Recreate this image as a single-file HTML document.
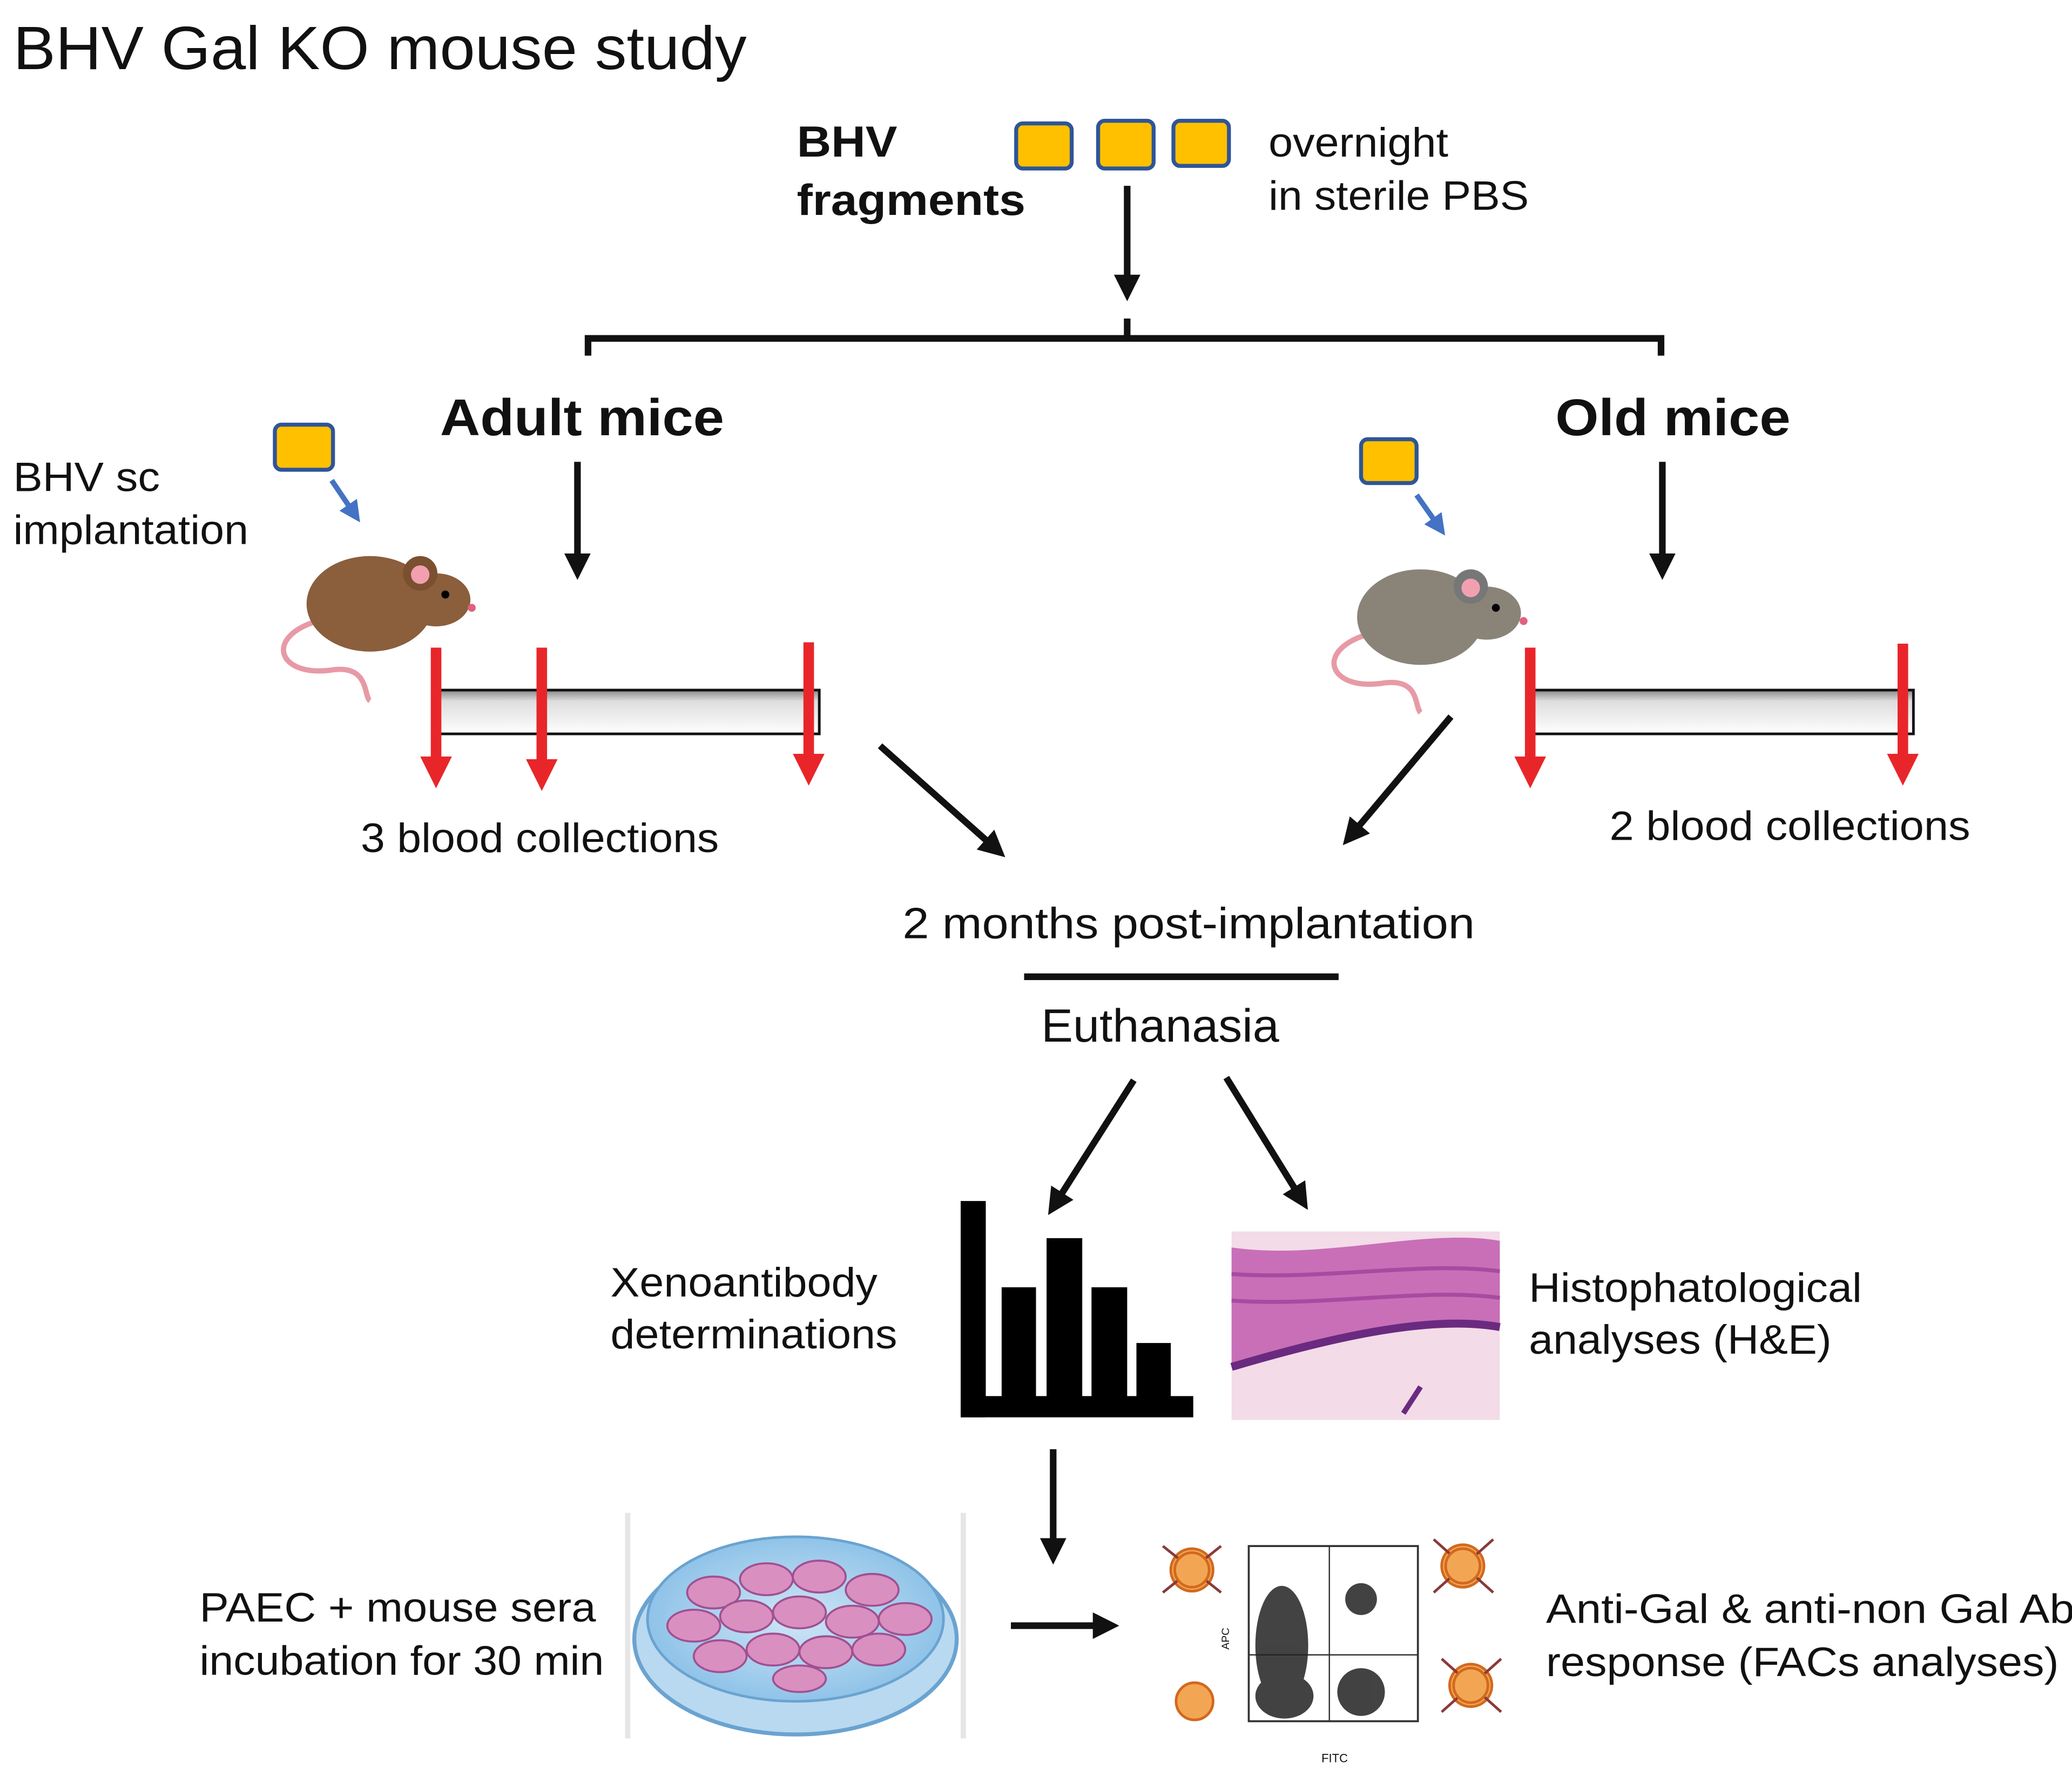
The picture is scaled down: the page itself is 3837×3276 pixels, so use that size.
<!DOCTYPE html>
<html><head><meta charset="utf-8"><style>
html,body{margin:0;padding:0;background:#fff;}
svg{display:block;}
text{font-family:"Liberation Sans",Arial,sans-serif;fill:#111;}
</style></head><body>
<svg width="3837" height="3276" viewBox="0 0 1568 1333" preserveAspectRatio="none" xmlns="http://www.w3.org/2000/svg">
<defs>
<marker id="ah" markerWidth="4" markerHeight="4" refX="2.2" refY="2" orient="auto" markerUnits="strokeWidth"><path d="M0,0 L4,2 L0,4 z" fill="#111"/></marker>
<marker id="ahr" markerWidth="3" markerHeight="3" refX="1.5" refY="1.5" orient="auto" markerUnits="strokeWidth"><path d="M0,0 L3,1.5 L0,3 z" fill="#E8262A"/></marker>
<marker id="ahb" markerWidth="4" markerHeight="4" refX="2" refY="2" orient="auto" markerUnits="strokeWidth"><path d="M0,0 L4,2 L0,4 z" fill="#4472C4"/></marker>
<linearGradient id="bar" x1="0" y1="0" x2="0" y2="1"><stop offset="0" stop-color="#888"/><stop offset="0.25" stop-color="#ddd"/><stop offset="1" stop-color="#fff"/></linearGradient>
<radialGradient id="dish" cx="0.5" cy="0.5" r="0.5"><stop offset="0" stop-color="#cfe6f7"/><stop offset="1" stop-color="#8fc3e8"/></radialGradient>
</defs>
<text x="10" y="52" font-size="46" textLength="555" lengthAdjust="spacingAndGlyphs">BHV Gal KO mouse study</text>
<text x="603" y="118" font-size="33" font-weight="bold" textLength="76" lengthAdjust="spacingAndGlyphs">BHV</text>
<text x="603" y="162" font-size="33" font-weight="bold" textLength="173" lengthAdjust="spacingAndGlyphs">fragments</text>
<g fill="#FFC000" stroke="#2F5597" stroke-width="3">
<rect x="769" y="93" width="42" height="34" rx="5"/><rect x="831" y="91" width="42" height="36" rx="5"/><rect x="888" y="91" width="42" height="34" rx="5"/>
<rect x="208" y="320" width="44" height="34" rx="5"/><rect x="1030" y="331" width="42" height="33" rx="5"/>
</g>
<text x="960" y="118" font-size="31" textLength="136" lengthAdjust="spacingAndGlyphs">overnight</text>
<text x="960" y="158" font-size="31" textLength="197" lengthAdjust="spacingAndGlyphs">in sterile PBS</text>
<g stroke="#111" stroke-width="5" fill="none">
<line x1="853" y1="140" x2="853" y2="218" marker-end="url(#ah)"/>
<path d="M445,268 L445,255 L1257,255 L1257,268"/>
<line x1="853" y1="255" x2="853" y2="240"/>
<line x1="437" y1="348" x2="437" y2="428" marker-end="url(#ah)"/>
<line x1="1258" y1="348" x2="1258" y2="428" marker-end="url(#ah)"/>
<line x1="666" y1="562" x2="754" y2="640" marker-end="url(#ah)"/>
<line x1="1098" y1="540" x2="1022" y2="630" marker-end="url(#ah)"/>
<line x1="775" y1="736" x2="1013" y2="736"/>
<line x1="858" y1="814" x2="798" y2="908" marker-end="url(#ah)"/>
<line x1="928" y1="812" x2="985" y2="904" marker-end="url(#ah)"/>
<line x1="797" y1="1092" x2="797" y2="1170" marker-end="url(#ah)"/>
<line x1="765" y1="1225" x2="838" y2="1225" marker-end="url(#ah)"/>
</g>
<text x="333" y="328" font-size="39" font-weight="bold" textLength="215" lengthAdjust="spacingAndGlyphs">Adult mice</text>
<text x="1177" y="328" font-size="39" font-weight="bold" textLength="178" lengthAdjust="spacingAndGlyphs">Old mice</text>
<text x="10" y="370" font-size="31" textLength="111" lengthAdjust="spacingAndGlyphs">BHV sc</text>
<text x="10" y="410" font-size="31" textLength="178" lengthAdjust="spacingAndGlyphs">implantation</text>
<line x1="251" y1="362" x2="268" y2="387" stroke="#4472C4" stroke-width="4" marker-end="url(#ahb)"/>
<line x1="1072" y1="373" x2="1089" y2="397" stroke="#4472C4" stroke-width="4" marker-end="url(#ahb)"/>
<g>
<path d="M240,468 C200,480 210,510 250,505 C280,500 275,525 280,528" stroke="#e79aa6" stroke-width="4" fill="none"/>
<ellipse cx="280" cy="455" rx="48" ry="36" fill="#8B5E3C"/>
<ellipse cx="330" cy="452" rx="26" ry="20" fill="#8B5E3C"/>
<ellipse cx="318" cy="432" rx="13" ry="13" fill="#7a5030"/><ellipse cx="318" cy="433" rx="7" ry="7" fill="#f2a0b0"/>
<circle cx="337" cy="448" r="3" fill="#000"/><circle cx="357" cy="458" r="3" fill="#e06080"/>
<path d="M1035,478 C995,490 1005,520 1045,515 C1075,510 1070,532 1075,537" stroke="#e79aa6" stroke-width="4" fill="none"/>
<ellipse cx="1075" cy="465" rx="48" ry="36" fill="#8a8478"/>
<ellipse cx="1125" cy="462" rx="26" ry="20" fill="#8a8478"/>
<ellipse cx="1113" cy="442" rx="13" ry="13" fill="#777"/><ellipse cx="1113" cy="443" rx="7" ry="7" fill="#f2a0b0"/>
<circle cx="1132" cy="458" r="3" fill="#000"/><circle cx="1153" cy="468" r="3" fill="#e06080"/>
</g>
<rect x="330" y="520" width="290" height="33" fill="url(#bar)" stroke="#111" stroke-width="2"/>
<rect x="1157" y="520" width="291" height="33" fill="url(#bar)" stroke="#111" stroke-width="2"/>
<g stroke="#E8262A" stroke-width="8">
<line x1="330" y1="488" x2="330" y2="582" marker-end="url(#ahr)"/>
<line x1="410" y1="488" x2="410" y2="584" marker-end="url(#ahr)"/>
<line x1="612" y1="484" x2="612" y2="580" marker-end="url(#ahr)"/>
<line x1="1158" y1="488" x2="1158" y2="582" marker-end="url(#ahr)"/>
<line x1="1440" y1="485" x2="1440" y2="580" marker-end="url(#ahr)"/>
</g>
<text x="273" y="642" font-size="31" textLength="271" lengthAdjust="spacingAndGlyphs">3 blood collections</text>
<text x="1218" y="633" font-size="31" textLength="273" lengthAdjust="spacingAndGlyphs">2 blood collections</text>
<text x="683" y="707" font-size="33" textLength="433" lengthAdjust="spacingAndGlyphs">2 months post-implantation</text>
<text x="788" y="785" font-size="35" textLength="180" lengthAdjust="spacingAndGlyphs">Euthanasia</text>
<g fill="#000">
<rect x="727" y="905" width="19" height="163"/><rect x="727" y="1052" width="176" height="16"/>
<rect x="758" y="970" width="26" height="90"/><rect x="792" y="933" width="27" height="127"/>
<rect x="826" y="970" width="27" height="90"/><rect x="860" y="1012" width="26" height="48"/>
</g>
<rect x="932" y="928" width="203" height="142" fill="#f3dbe8"/>
<path d="M932,940 C1000,950 1080,925 1135,935 L1135,1000 C1080,990 1000,1010 932,1030 Z" fill="#c86fb8"/>
<path d="M932,960 C1000,965 1080,950 1135,958 M932,980 C1000,985 1080,970 1135,978" stroke="#a94aa0" stroke-width="3" fill="none"/>
<path d="M932,1030 C1000,1010 1080,990 1135,1000" stroke="#6a2a80" stroke-width="6" fill="none"/>
<line x1="1062" y1="1065" x2="1075" y2="1045" stroke="#6a2a80" stroke-width="4"/>
<text x="462" y="977" font-size="31" textLength="202" lengthAdjust="spacingAndGlyphs">Xenoantibody</text>
<text x="462" y="1016" font-size="31" textLength="217" lengthAdjust="spacingAndGlyphs">determinations</text>
<text x="1157" y="981" font-size="31" textLength="252" lengthAdjust="spacingAndGlyphs">Histophatological</text>
<text x="1157" y="1020" font-size="31" textLength="229" lengthAdjust="spacingAndGlyphs">analyses (H&amp;E)</text>
<rect x="473" y="1140" width="4" height="170" fill="#e6e6e6"/><rect x="727" y="1140" width="4" height="170" fill="#e6e6e6"/>
<ellipse cx="602" cy="1235" rx="122" ry="72" fill="#b9d9f0" stroke="#6aa3d0" stroke-width="3"/>
<ellipse cx="602" cy="1220" rx="112" ry="62" fill="url(#dish)" stroke="#6aa3d0" stroke-width="2"/>
<g fill="#d98fc0" stroke="#a05090" stroke-width="1.5">
<ellipse cx="540" cy="1200" rx="20" ry="12"/><ellipse cx="580" cy="1190" rx="20" ry="12"/><ellipse cx="620" cy="1188" rx="20" ry="12"/><ellipse cx="660" cy="1198" rx="20" ry="12"/>
<ellipse cx="525" cy="1225" rx="20" ry="12"/><ellipse cx="565" cy="1218" rx="20" ry="12"/><ellipse cx="605" cy="1215" rx="20" ry="12"/><ellipse cx="645" cy="1222" rx="20" ry="12"/><ellipse cx="685" cy="1220" rx="20" ry="12"/>
<ellipse cx="545" cy="1248" rx="20" ry="12"/><ellipse cx="585" cy="1243" rx="20" ry="12"/><ellipse cx="625" cy="1245" rx="20" ry="12"/><ellipse cx="665" cy="1243" rx="20" ry="12"/>
<ellipse cx="605" cy="1265" rx="20" ry="10"/>
</g>
<text x="151" y="1222" font-size="31" textLength="300" lengthAdjust="spacingAndGlyphs">PAEC + mouse sera</text>
<text x="151" y="1262" font-size="31" textLength="306" lengthAdjust="spacingAndGlyphs">incubation for 30 min</text>
<rect x="945" y="1165" width="128" height="132" fill="none" stroke="#333" stroke-width="1.5"/>
<line x1="1006" y1="1165" x2="1006" y2="1297" stroke="#333"/><line x1="945" y1="1247" x2="1073" y2="1247" stroke="#333"/>
<g fill="#222" opacity="0.85">
<ellipse cx="970" cy="1240" rx="20" ry="45"/><ellipse cx="972" cy="1278" rx="22" ry="17"/><ellipse cx="1030" cy="1205" rx="12" ry="12"/><ellipse cx="1030" cy="1275" rx="18" ry="18"/>
</g>
<text x="932" y="1255" font-size="8" transform="rotate(-90 925 1250)">APC</text>
<text x="1000" y="1328" font-size="9">FITC</text>
<g fill="#f2a654" stroke="#d2691e" stroke-width="2">
<circle cx="902" cy="1183" r="16"/><circle cx="1107" cy="1180" r="16"/><circle cx="1113" cy="1270" r="16"/><circle cx="904" cy="1282" r="14"/>
</g>
<g stroke="#8a3a3a" stroke-width="2"><line x1="880" y1="1165" x2="924" y2="1200"/><line x1="924" y1="1165" x2="880" y2="1200"/><line x1="1085" y1="1160" x2="1130" y2="1200"/><line x1="1130" y1="1160" x2="1085" y2="1200"/><line x1="1091" y1="1250" x2="1136" y2="1290"/><line x1="1136" y1="1250" x2="1091" y2="1290"/></g>
<g fill="#f2a654" stroke="#d2691e" stroke-width="2"><circle cx="902" cy="1183" r="13"/><circle cx="1107" cy="1180" r="13"/><circle cx="1113" cy="1270" r="13"/></g>
<text x="1170" y="1223" font-size="31" textLength="400" lengthAdjust="spacingAndGlyphs">Anti-Gal &amp; anti-non Gal Ab</text>
<text x="1170" y="1263" font-size="31" textLength="388" lengthAdjust="spacingAndGlyphs">response (FACs analyses)</text>
</svg>
</body></html>
